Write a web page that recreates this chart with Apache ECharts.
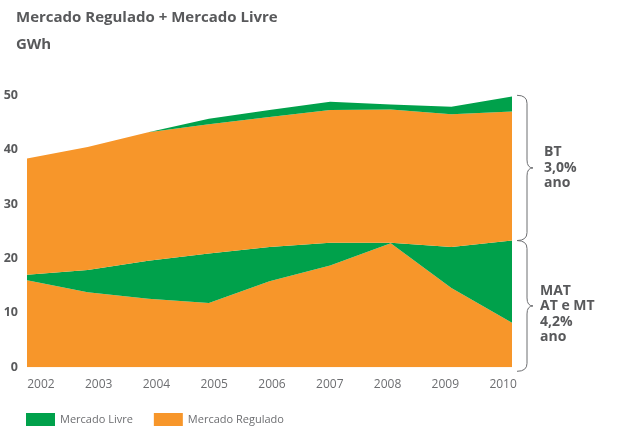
<!DOCTYPE html>
<html>
<head>
<meta charset="utf-8">
<script src="https://cdn.jsdelivr.net/npm/echarts@6/dist/echarts.min.js"></script>
<style>
  html, body { margin: 0; padding: 0; background: #fff; }
  #chart { width: 622px; height: 428px; }
</style>
</head>
<body>
<div id="chart"></div>
<script>
// ---- data (GWh) ----
const years = ['2002', '2003', '2004', '2005', '2006', '2007', '2008', '2009', '2010'];
// MAT (AT e MT) - stacked bottom
const matRegulado = [16.0, 13.8, 12.6, 11.8, 15.8, 18.7, 22.8, 14.6, 8.2];
const matLivre    = [1.0, 4.1, 7.0, 9.1, 6.3, 4.2, 0.1, 7.5, 15.1];
// BT - stacked on top
const btRegulado  = [21.4, 22.6, 23.6, 23.8, 23.9, 24.4, 24.5, 24.4, 23.7];
const btLivre     = [0, 0, 0, 1.0, 1.3, 1.5, 0.9, 1.4, 2.8];
const yMin = 0, yMax = 50, yInterval = 10;
const braceTexts = ['BT\n3,0%\nano', 'MAT\nAT e MT\n4,2%\nano'];
const legendNames = ['Mercado Livre', 'Mercado Regulado'];

const GREEN = '#00a14b';
const ORANGE = '#f7962a';
const GREY = '#58595b';
const FONT = '"Open Sans", sans-serif';

const chart = echarts.init(document.getElementById('chart'), null, { renderer: 'canvas' });

function areaSeries(name, data, color) {
  return {
    name: name, type: 'line', stack: 'total', data: data,
    xAxisIndex: 0, yAxisIndex: 0,
    symbol: 'none', showSymbol: false,
    lineStyle: { width: 0, opacity: 0 },
    areaStyle: { color: color, opacity: 1 },
    itemStyle: { color: color },
    emphasis: { disabled: true },
    silent: true
  };
}

chart.setOption({
  animation: false,
  backgroundColor: '#ffffff',
  textStyle: { fontFamily: FONT },
  title: [
    { text: 'Mercado Regulado + Mercado Livre', left: 11, top: 5,
      textStyle: { fontFamily: FONT, fontSize: 15, fontWeight: 'bold', color: GREY } },
    { text: 'GWh', left: 11, top: 32,
      textStyle: { fontFamily: FONT, fontSize: 15, fontWeight: 'bold', color: GREY } }
  ],
  legend: {
    data: legendNames,
    left: 26, top: 413, padding: 0,
    itemWidth: 29, itemHeight: 13, itemGap: 21,
    icon: 'rect',
    selectedMode: false,
    textStyle: { fontFamily: FONT, fontSize: 11, color: '#6d6e71' }
  },
  grid: [
    { left: 27, right: 110, top: 95.3, bottom: 60.7, containLabel: false },
    { left: 12, width: 520, top: 95.3, bottom: 60.7, containLabel: false }
  ],
  xAxis: [
    { type: 'category', gridIndex: 0, data: years, boundaryGap: false,
      axisLine: { show: false }, axisTick: { show: false }, axisLabel: { show: false },
      splitLine: { show: false } },
    { type: 'category', gridIndex: 1, data: years, boundaryGap: true,
      axisLine: { show: false }, axisTick: { show: false },
      axisLabel: { margin: 11, fontFamily: FONT, fontSize: 12, color: '#6d6e71' },
      splitLine: { show: false } }
  ],
  yAxis: [
    { type: 'value', gridIndex: 0, min: yMin, max: yMax, interval: yInterval,
      axisLine: { show: false }, axisTick: { show: false }, splitLine: { show: false },
      axisLabel: { margin: 9, fontFamily: FONT, fontSize: 12.5, fontWeight: 'bold', color: GREY } },
    { type: 'value', gridIndex: 1, min: yMin, max: yMax, show: false }
  ],
  series: [
    areaSeries('Mercado Regulado', matRegulado, ORANGE),
    areaSeries('Mercado Livre', matLivre, GREEN),
    areaSeries('Mercado Regulado', btRegulado, ORANGE),
    areaSeries('Mercado Livre', btLivre, GREEN)
  ]
});

// ---- braces on the right, positioned from the axis scale ----
const last = years.length - 1;
const matTotalLast = matRegulado[last] + matLivre[last];
const ranges = [[yMax, matTotalLast], [matTotalLast, yMin]];
const xEnd = chart.convertToPixel({ gridIndex: 0 }, [last, 0])[0];
const braceStyle = { stroke: '#6d6e71', lineWidth: 1, fill: null };

function curve(ax, ay, cx, cy, bx, by) {
  return { type: 'bezierCurve', silent: true,
    shape: { x1: ax, y1: ay, cpx1: cx, cpy1: cy, x2: bx, y2: by },
    style: braceStyle };
}
function seg(ax, ay, bx, by) {
  return { type: 'line', silent: true,
    shape: { x1: ax, y1: ay, x2: bx, y2: by }, style: braceStyle };
}

const graphics = [];
ranges.forEach(function (rg, i) {
  const yA = chart.convertToPixel({ gridIndex: 0 }, [0, rg[0]])[1];
  let yB = chart.convertToPixel({ gridIndex: 0 }, [0, rg[1]])[1];
  if (i === 1) yB += 4;
  const x0 = xEnd + 5, x1 = x0 + 10, xt = x0 + 16, r = 8;
  const ym = (yA + yB) / 2;
  graphics.push(curve(x0, yA, x1, yA, x1, yA + r));
  graphics.push(seg(x1, yA + r, x1, ym - r));
  graphics.push(curve(x1, ym - r, x1, ym, xt, ym));
  graphics.push(curve(xt, ym, x1, ym, x1, ym + r));
  graphics.push(seg(x1, ym + r, x1, yB - r));
  graphics.push(curve(x1, yB - r, x1, yB, x0, yB));
  graphics.push({
    type: 'text', silent: true,
    x: x0 + (i === 0 ? 27 : 23),
    y: ym + (i === 0 ? 0 : 8),
    style: {
      text: braceTexts[i],
      fontFamily: FONT, fontSize: 14, fontWeight: 'bold',
      fill: GREY, lineHeight: 15.5,
      verticalAlign: 'middle', align: 'left'
    }
  });
});
chart.setOption({ graphic: graphics });
</script>
</body>
</html>
